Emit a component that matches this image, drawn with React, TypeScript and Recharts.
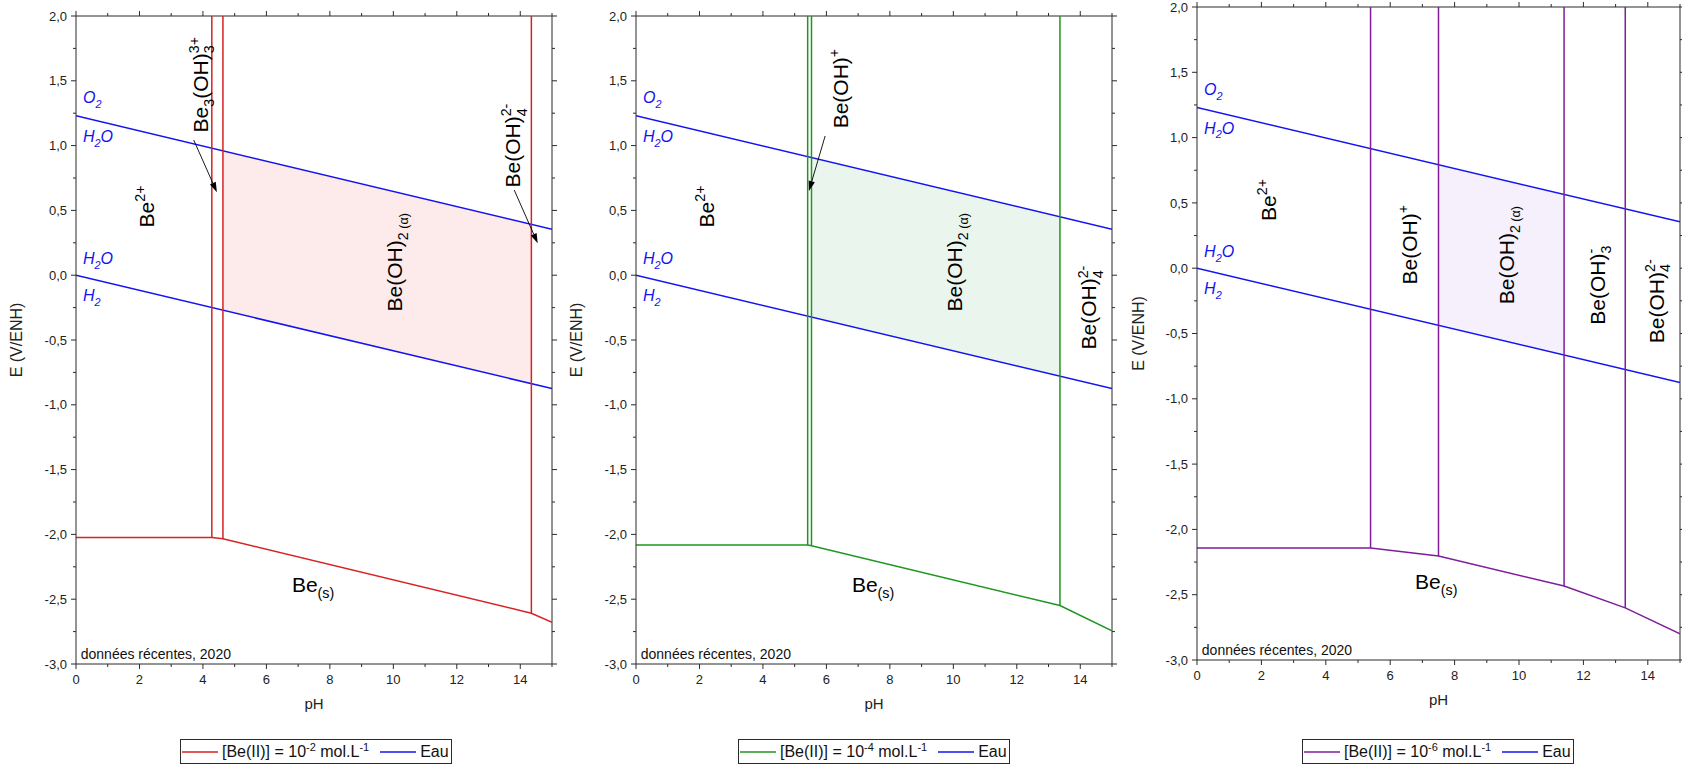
import React from "react";
import { ComposedChart, Line, Area, XAxis, YAxis, ReferenceLine, ReferenceDot } from "recharts";

const FONT = "'Liberation Sans', Arial, Helvetica, sans-serif";
const AXIS = "#2b2b2b";
const BLUE = "#1414f0";

const X_TICKS = [0, 1, 2, 3, 4, 5, 6, 7, 8, 9, 10, 11, 12, 13, 14, 15];
const Y_TICKS = [-3, -2.75, -2.5, -2.25, -2, -1.75, -1.5, -1.25, -1, -0.75, -0.5, -0.25, 0, 0.25, 0.5, 0.75, 1, 1.25, 1.5, 1.75, 2];

// water stability limits
const O2_H2O = [{ ph: 0, E: 1.23 }, { ph: 15, E: 0.355 }];
const H2O_H2 = [{ ph: 0, E: 0 }, { ph: 15, E: -0.875 }];

// [Be(II)] = 1e-2
const BE_E2_BOTTOM = [
  { ph: 0, E: -2.023 }, { ph: 4.28, E: -2.023 }, { ph: 4.63, E: -2.033 }, { ph: 14.35, E: -2.608 }, { ph: 15, E: -2.679 },
];
const BE_E2_VERTICALS = [{ ph: 4.28, E: -2.023 }, { ph: 4.63, E: -2.033 }, { ph: 14.35, E: -2.608 }];
const BE_E2_FILL = [{ ph: 4.63, lo: -0.27, hi: 0.96 }, { ph: 14.35, lo: -0.837, hi: 0.393 }];

// [Be(II)] = 1e-4
const BE_E4_BOTTOM = [
  { ph: 0, E: -2.082 }, { ph: 5.41, E: -2.082 }, { ph: 5.53, E: -2.087 }, { ph: 13.36, E: -2.549 }, { ph: 15, E: -2.744 },
];
const BE_E4_VERTICALS = [{ ph: 5.41, E: -2.082 }, { ph: 5.53, E: -2.087 }, { ph: 13.36, E: -2.549 }];
const BE_E4_FILL = [{ ph: 5.53, lo: -0.323, hi: 0.907 }, { ph: 13.36, lo: -0.779, hi: 0.451 }];

// [Be(II)] = 1e-6
const BE_E6_BOTTOM = [
  { ph: 0, E: -2.142 }, { ph: 5.39, E: -2.142 }, { ph: 7.5, E: -2.203 }, { ph: 11.4, E: -2.434 }, { ph: 13.3, E: -2.601 }, { ph: 15, E: -2.8 },
];
const BE_E6_VERTICALS = [{ ph: 5.39, E: -2.142 }, { ph: 7.5, E: -2.203 }, { ph: 11.4, E: -2.434 }, { ph: 13.3, E: -2.601 }];
const BE_E6_FILL = [{ ph: 7.5, lo: -0.4375, hi: 0.7925 }, { ph: 11.4, lo: -0.665, hi: 0.565 }];

const LEGEND_EXPONENTS = ["-2", "-4", "-6"];

// formulas
const F_BE2 = [["Be"], ["2+", "sup"]];
const F_BE3OH3 = [["Be"], ["3", "sub"], ["(OH)"], ["3", "sub"], ["3+", "supback"]];
const F_BEOH = [["Be(OH)"], ["+", "sup"]];
const F_BEOH2 = [["Be(OH)"], ["2", "sub"], [" (\u03b1)", "subtiny"]];
const F_BEOH3 = [["Be(OH)"], ["3", "sub"], ["-", "supback"]];
const F_BEOH4 = [["Be(OH)"], ["4", "sub"], ["2-", "supback"]];
const F_BES = [["Be"], ["(s)", "sub"]];
const F_O2 = [["O"], ["2", "sub"]];
const F_H2O = [["H"], ["2", "sub"], ["O"]];
const F_H2 = [["H"], ["2", "sub"]];

const WATER_LABELS = [
  { ph: 0.22, E: 1.325, f: F_O2 },
  { ph: 0.22, E: 1.03, f: F_H2O },
  { ph: 0.22, E: 0.085, f: F_H2O },
  { ph: 0.22, E: -0.2, f: F_H2 },
];

const E2_LABELS = [
  { ph: 2.22, E: 0.53, f: F_BE2, rot: true },
  { ph: 3.91, E: 1.47, f: F_BE3OH3, rot: true },
  { ph: 13.76, E: 1.0, f: F_BEOH4, rot: true },
  { ph: 10.04, E: 0.1, f: F_BEOH2, rot: true },
  { ph: 7.47, E: -2.383, f: F_BES, rot: false },
];
const E2_ARROWS = [
  { from: { x: 3.71, y: 1.043 }, to: { x: 4.44, y: 0.64 } },
  { from: { x: 13.81, y: 0.657 }, to: { x: 14.55, y: 0.246 } },
];

const E4_LABELS = [
  { ph: 2.22, E: 0.53, f: F_BE2, rot: true },
  { ph: 6.44, E: 1.44, f: F_BEOH, rot: true },
  { ph: 10.04, E: 0.1, f: F_BEOH2, rot: true },
  { ph: 14.27, E: -0.25, f: F_BEOH4, rot: true },
  { ph: 7.47, E: -2.383, f: F_BES, rot: false },
];
const E4_ARROWS = [{ from: { x: 5.96, y: 1.074 }, to: { x: 5.45, y: 0.65 } }];

const E6_LABELS = [
  { ph: 2.21, E: 0.523, f: F_BE2, rot: true },
  { ph: 6.6, E: 0.18, f: F_BEOH, rot: true },
  { ph: 9.6, E: 0.1, f: F_BEOH2, rot: true },
  { ph: 12.43, E: -0.13, f: F_BEOH3, rot: true },
  { ph: 14.27, E: -0.253, f: F_BEOH4, rot: true },
  { ph: 7.43, E: -2.398, f: F_BES, rot: false },
];

function ChemText({ x, y, parts, size, rotate = false, anchor = "middle", center = true, italic = false, color = "#000" }: any) {
  const base = center ? size * 0.36 : 0;
  const small = size * 0.68;
  const tiny = size * 0.6;
  let cur = 0;
  let prevW = 0;
  const spans = parts.map(([t, mode = "n"]: string[], i: number) => {
    let off = 0;
    let fs = size;
    let dx = 0;
    if (mode === "sub") { off = size * 0.3; fs = small; }
    else if (mode === "sup") { off = -size * 0.42; fs = small; }
    else if (mode === "supback") { off = -size * 0.42; fs = small; dx = -prevW; }
    else if (mode === "subtiny") { off = size * 0.3; fs = tiny; }
    const target = base + off;
    const dy = target - cur;
    cur = target;
    prevW = mode === "sub" ? t.length * 0.556 * small : 0;
    return (
      <tspan key={i} dx={dx} dy={dy} fontSize={fs}>{t}</tspan>
    );
  });
  return (
    <text
      x={x}
      y={y}
      transform={rotate ? `rotate(-90 ${x} ${y})` : undefined}
      textAnchor={anchor}
      fontFamily={FONT}
      fontStyle={italic ? "italic" : "normal"}
      fill={color}
      fontSize={size}
    >
      {spans}
    </text>
  );
}

function arrowShape(props: any) {
  const { x1, y1, x2, y2 } = props;
  const a = Math.atan2(y2 - y1, x2 - x1);
  const L = 10;
  const W = 3.2;
  const bx = x2 - L * Math.cos(a);
  const by = y2 - L * Math.sin(a);
  const pts = `${x2},${y2} ${bx + W * Math.sin(a)},${by - W * Math.cos(a)} ${bx - W * Math.sin(a)},${by + W * Math.cos(a)}`;
  return (
    <g>
      <line x1={x1} y1={y1} x2={bx} y2={by} stroke="#000" strokeWidth={0.9} />
      <polygon points={pts} fill="#000" />
    </g>
  );
}

const fmtY = (v: number) => v.toFixed(1).replace(".", ",");

const PANELS = [
  {
    left: 0, width: 560, top: 16, right: 8, bottom: 10, yw: 76,
    color: "#d62222", fillColor: "#fdeaeb",
    bottomLine: BE_E2_BOTTOM, verticals: BE_E2_VERTICALS, fill: BE_E2_FILL,
    labels: E2_LABELS, arrows: E2_ARROWS, legendLeft: 180, exp: LEGEND_EXPONENTS[0],
  },
  {
    left: 560, width: 560, top: 16, right: 8, bottom: 10, yw: 76,
    color: "#1f961f", fillColor: "#eaf5ee",
    bottomLine: BE_E4_BOTTOM, verticals: BE_E4_VERTICALS, fill: BE_E4_FILL,
    labels: E4_LABELS, arrows: E4_ARROWS, legendLeft: 738, exp: LEGEND_EXPONENTS[1],
  },
  {
    left: 1122, width: 560, top: 7, right: 2, bottom: 14, yw: 75,
    color: "#7f1d9a", fillColor: "#f5f0fb",
    bottomLine: BE_E6_BOTTOM, verticals: BE_E6_VERTICALS, fill: BE_E6_FILL,
    labels: E6_LABELS, arrows: [], legendLeft: 1302, exp: LEGEND_EXPONENTS[2],
  },
];

const CHART_H = 720;
const XAXIS_H = 46;

function Panel({ p }: any) {
  const plotW = p.width - p.yw - p.right;
  const plotH = CHART_H - p.top - p.bottom - XAXIS_H;

  const xTick = (props: any) => {
    const { x, y, payload } = props;
    const v = payload.value;
    const major = v % 2 === 0;
    const len = major ? 5 : 3;
    return (
      <g>
        <line x1={x} x2={x} y1={y} y2={y + len} stroke={AXIS} />
        <line x1={x} x2={x} y1={y - plotH} y2={y - plotH - len} stroke={AXIS} />
        {major && v < 15 && (
          <text x={x} y={y + 20} textAnchor="middle" fontFamily={FONT} fontSize={13} fill="#222">{v}</text>
        )}
      </g>
    );
  };

  const yTick = (props: any) => {
    const { x, y, payload } = props;
    const v = payload.value;
    const major = Math.abs(v * 2 - Math.round(v * 2)) < 1e-6;
    const len = major ? 5 : 3;
    return (
      <g>
        <line x1={x - len} x2={x} y1={y} y2={y} stroke={AXIS} />
        <line x1={x + plotW} x2={x + plotW + len} y1={y} y2={y} stroke={AXIS} />
        {major && (
          <text x={x - 9} y={y + 4.6} textAnchor="end" fontFamily={FONT} fontSize={13} fill="#222">{fmtY(v)}</text>
        )}
      </g>
    );
  };

  return (
    <div style={{ position: "absolute", left: p.left, top: 0 }}>
      <ComposedChart width={p.width} height={CHART_H} margin={{ top: p.top, right: p.right, bottom: p.bottom, left: 0 }}>
        <XAxis
          type="number" dataKey="ph" domain={[0, 15]} ticks={X_TICKS} interval={0} allowDataOverflow
          height={XAXIS_H} tickSize={0} tickMargin={0} tickLine={false} axisLine={{ stroke: AXIS }} tick={xTick}
          label={{ value: "pH", position: "insideBottom", offset: 1, fill: "#222", fontSize: 15, fontFamily: FONT }}
        />
        <YAxis
          type="number" domain={[-3, 2]} ticks={Y_TICKS} interval={0} allowDataOverflow
          width={p.yw} tickSize={0} tickMargin={0} tickLine={false} axisLine={{ stroke: AXIS }} tick={yTick}
          label={{
            content: (lp: any) => {
              const vb = lp.viewBox || { x: 0, y: p.top, width: p.yw, height: plotH };
              const cx = vb.x + 16;
              const cy = vb.y + vb.height / 2;
              return (
                <text x={cx} y={cy} transform={`rotate(-90 ${cx} ${cy})`} textAnchor="middle" dominantBaseline="central" fontFamily={FONT} fontSize={16} fill="#222">
                  E (V/ENH)
                </text>
              );
            },
          }}
        />
        <Area
          data={p.fill} dataKey={(d: any) => [d.lo, d.hi]} type="linear"
          stroke="none" fill={p.fillColor} fillOpacity={1} isAnimationActive={false} dot={false} activeDot={false}
        />
        <ReferenceLine y={2} stroke={AXIS} ifOverflow="visible" />
        <ReferenceLine x={15} stroke={AXIS} ifOverflow="visible" />
        <Line data={O2_H2O} dataKey="E" type="linear" stroke={BLUE} strokeWidth={1.5} dot={false} activeDot={false} isAnimationActive={false} />
        <Line data={H2O_H2} dataKey="E" type="linear" stroke={BLUE} strokeWidth={1.5} dot={false} activeDot={false} isAnimationActive={false} />
        {p.verticals.map((v: any, i: number) => (
          <Line
            key={`v${i}`} data={[{ ph: v.ph, E: 2 }, v]} dataKey="E" type="linear"
            stroke={p.color} strokeWidth={1.5} dot={false} activeDot={false} isAnimationActive={false}
          />
        ))}
        <Line data={p.bottomLine} dataKey="E" type="linear" stroke={p.color} strokeWidth={1.5} dot={false} activeDot={false} isAnimationActive={false} />
        {p.arrows.map((a: any, i: number) => (
          <ReferenceLine key={`a${i}`} segment={[a.from, a.to]} ifOverflow="visible" shape={arrowShape} />
        ))}
        {WATER_LABELS.map((w, i) => (
          <ReferenceDot
            key={`w${i}`} x={w.ph} y={w.E} r={0} ifOverflow="visible"
            shape={(sp: any) => <ChemText x={sp.cx} y={sp.cy} parts={w.f} size={16} anchor="start" center={false} italic color={BLUE} />}
          />
        ))}
        {p.labels.map((l: any, i: number) => (
          <ReferenceDot
            key={`l${i}`} x={l.ph} y={l.E} r={0} ifOverflow="visible"
            shape={(sp: any) => <ChemText x={sp.cx} y={sp.cy} parts={l.f} size={21} rotate={l.rot} />}
          />
        ))}
        <ReferenceDot
          x={0.15} y={-2.96} r={0} ifOverflow="visible"
          shape={(sp: any) => (
            <text x={sp.cx} y={sp.cy} fontFamily={FONT} fontSize={14} fill="#111">données récentes, 2020</text>
          )}
        />
      </ComposedChart>
    </div>
  );
}

function LegendBox({ left, color, exp }: any) {
  const sup: React.CSSProperties = { fontSize: 11, position: "relative", top: -6, lineHeight: 0 };
  return (
    <div
      style={{
        position: "absolute", left, top: 739, height: 23, border: `1px solid ${AXIS}`, background: "#fff",
        display: "flex", alignItems: "center", fontFamily: FONT, fontSize: 16, color: "#111",
        whiteSpace: "nowrap", paddingRight: 2,
      }}
    >
      <svg width={38} height={10} style={{ display: "block" }}>
        <line x1={1} x2={37} y1={5} y2={5} stroke={color} strokeWidth={1.5} />
      </svg>
      <span style={{ marginLeft: 3 }}>
        [Be(II)] = 10<span style={sup}>{exp}</span> mol.L<span style={sup}>-1</span>
      </span>
      <svg width={38} height={10} style={{ display: "block", marginLeft: 10 }}>
        <line x1={1} x2={37} y1={5} y2={5} stroke={BLUE} strokeWidth={1.5} />
      </svg>
      <span style={{ marginLeft: 3 }}>Eau</span>
    </div>
  );
}

export default function App() {
  return (
    <div style={{ position: "relative", width: 1682, height: 767, background: "#fff", overflow: "hidden" }}>
      <style>{"body{margin:0}"}</style>
      {PANELS.map((p, i) => (
        <Panel key={i} p={p} />
      ))}
      {PANELS.map((p, i) => (
        <LegendBox key={`lg${i}`} left={p.legendLeft} color={p.color} exp={p.exp} />
      ))}
    </div>
  );
}
